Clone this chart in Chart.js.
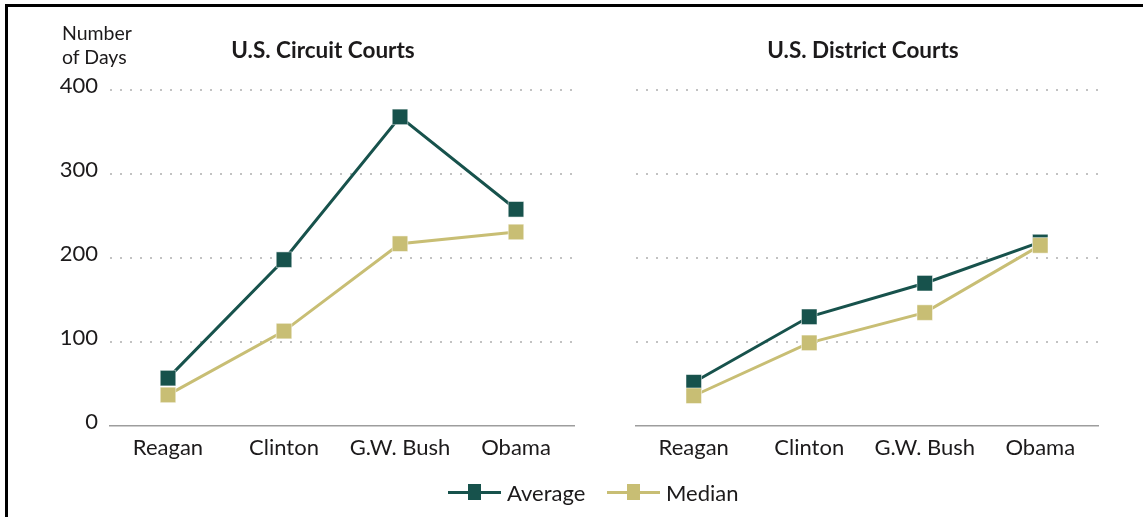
<!DOCTYPE html>
<html>
<head>
<meta charset="utf-8">
<script src="https://cdn.jsdelivr.net/npm/chart.js@4/dist/chart.umd.min.js"></script>
<style>
  html, body { margin: 0; padding: 0; background: #fff; }
  body { width: 1143px; height: 517px; position: relative; overflow: hidden; font-family: Lato, "Open Sans", sans-serif; color: #1c1a1b; }
  .frame { position: absolute; left: 5px; top: 4px; right: -10px; bottom: -10px; border-top: 3px solid #000; border-left: 3px solid #000; }
  .box { position: absolute; top: 0; height: 517px; }
  .title { position: absolute; top: 36px; font-weight: bold; font-size: 22.5px; line-height: 27px; white-space: nowrap; transform: translateX(-50%); }
  .unit { position: absolute; left: 62px; top: 21px; font-size: 19.5px; line-height: 24px; }
  .legend { position: absolute; top: 479px; height: 26px; display: flex; align-items: center; font-size: 22px; }
  .key { position: relative; width: 53px; height: 3px; margin-right: 6px; }
  .key i { position: absolute; left: 20px; top: -7px; width: 13px; height: 16px; }
</style>
</head>
<body>
<div class="frame"></div>
<div class="box" style="left:0;width:600px"><canvas id="circuitChart"></canvas></div>
<div class="box" style="left:600px;width:543px"><canvas id="districtChart"></canvas></div>
<div class="unit">Number<br>of Days</div>
<div class="title" style="left:323px">U.S. Circuit Courts</div>
<div class="title" style="left:863px">U.S. District Courts</div>
<div class="legend" style="left:448px">
  <div class="key" id="keyAvg"><i></i></div><span>Average</span>
</div>
<div class="legend" style="left:607px">
  <div class="key" id="keyMed"><i></i></div><span>Median</span>
</div>
<script>
// data (days)
const presidents = ['Reagan', 'Clinton', 'G.W. Bush', 'Obama'];
const circuitAverage = [57, 198, 368, 258];
const circuitMedian = [37, 113, 217, 231];
const districtAverage = [52, 130, 170, 219];
const districtMedian = [36, 99, 135, 215];
const dayTicks = [0, 100, 200, 300, 400];

const avgColor = '#17524c';
const medColor = '#c8be74';
const textColor = '#1c1a1b';

document.querySelector('#keyAvg').style.background = avgColor;
document.querySelector('#keyAvg i').style.background = avgColor;
document.querySelector('#keyMed').style.background = medColor;
document.querySelector('#keyMed i').style.background = medColor;

function series(label, data, color, order) {
    return {
        label: label,
        data: data,
        borderColor: color,
        backgroundColor: color,
        borderWidth: 3,
        pointStyle: 'rect',
        pointRadius: 11,
        pointBorderWidth: 1,
        pointBorderColor: 'rgba(255,255,255,0.5)',
        pointBackgroundColor: color,
        tension: 0,
        order: order
    };
}

function makeChart(id, avg, med, showY, padding) {
    const ctx = document.getElementById(id).getContext('2d');
    return new Chart(ctx, {
        type: 'line',
        data: {
            labels: presidents,
            datasets: [
                series('Average', avg, avgColor, 1),
                series('Median', med, medColor, 0)
            ]
        },
        options: {
            responsive: true,
            maintainAspectRatio: false,
            animation: false,
            events: [],
            layout: { padding: padding },
            plugins: {
                legend: { display: false },
                title: { display: false },
                tooltip: { enabled: false }
            },
            scales: {
                x: {
                    offset: true,
                    grid: { display: false, drawTicks: false },
                    border: { display: true, color: '#9d9d9d', width: 1.5 },
                    ticks: {
                        color: textColor,
                        padding: 9,
                        maxRotation: 0,
                        font: { family: 'Lato', size: 22 }
                    },
                    afterFit: (scale) => { scale.height = 91; }
                },
                y: {
                    min: 0,
                    max: 400,
                    afterBuildTicks: (scale) => { scale.ticks = dayTicks.map(v => ({ value: v })); },
                    grid: {
                        drawTicks: false,
                        lineWidth: 2,
                        color: (c) => c.tick && c.tick.value === 0 ? 'rgba(0,0,0,0)' : '#c2c2c2'
                    },
                    border: { display: false, dash: [2, 8] },
                    ticks: {
                        display: showY,
                        color: textColor,
                        padding: 12,
                        font: { family: 'Lato', size: 22, lineHeight: '9px' },
                        // blank second line lifts the label a little above its grid line
                        callback: (v) => [String(v), '']
                    },
                    afterFit: (scale) => { if (showY) scale.width = 110; }
                }
            }
        }
    });
}

makeChart('circuitChart', circuitAverage, circuitMedian, true, { top: 90, right: 26, bottom: 0, left: 0 });
makeChart('districtChart', districtAverage, districtMedian, false, { top: 90, right: 45, bottom: 0, left: 36 });
</script>
</body>
</html>
